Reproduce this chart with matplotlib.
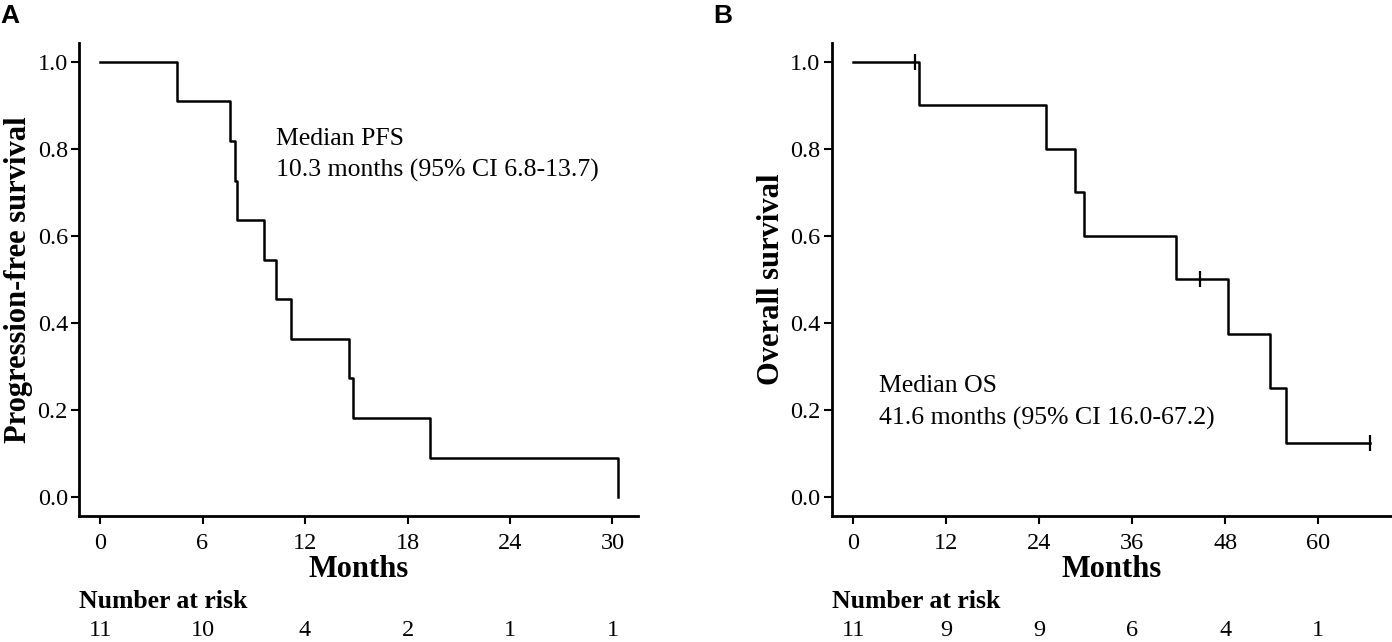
import matplotlib
matplotlib.use("Agg")
import matplotlib.pyplot as plt
from matplotlib.transforms import blended_transform_factory

plt.rcParams['font.family'] = ['Liberation Serif', 'DejaVu Serif']

# Panel A: progression-free survival (Kaplan-Meier steps)
pfs_time = [0, 4.5, 7.6, 7.9, 8.0, 9.6, 10.3, 11.2, 14.6, 14.8, 19.3, 30.3]
pfs_surv = [1.0, 0.909, 0.818, 0.727, 0.636, 0.545, 0.455, 0.364, 0.273, 0.182, 0.091, 0.0]
pfs_ticks = [0, 6, 12, 18, 24, 30]
pfs_risk = [11, 10, 4, 2, 1, 1]

# Panel B: overall survival
os_time = [0, 8.5, 24.9, 28.6, 29.8, 41.6, 48.4, 53.7, 55.8, 66.7]
os_surv = [1.0, 0.9, 0.8, 0.7, 0.6, 0.5, 0.375, 0.25, 0.125, 0.125]
os_cens_time = [7.9, 44.7, 66.7]
os_cens_surv = [1.0, 0.5, 0.125]
os_ticks = [0, 12, 24, 36, 48, 60]
os_risk = [11, 9, 9, 6, 4, 1]

y_ticks = [0.0, 0.2, 0.4, 0.6, 0.8, 1.0]

fig = plt.figure(figsize=(13.92, 6.42), dpi=100)
axA = fig.add_axes([0.0568, 0.1963, 0.4016, 0.7368])
axB = fig.add_axes([0.5975, 0.1963, 0.4025, 0.7368])


def style_axis(ax, xticks, xlim, ylabel):
    for side in ['top', 'right']:
        ax.spines[side].set_visible(False)
    for side in ['left', 'bottom']:
        ax.spines[side].set_linewidth(2.0)
    ax.set_xlim(*xlim)
    ax.set_ylim(-0.043, 1.043)
    ax.set_xticks(xticks)
    ax.set_yticks(y_ticks)
    ax.set_yticklabels(['%.1f' % v for v in y_ticks])
    ax.tick_params(direction='out', length=6, width=1.5, labelsize=17.5)
    ax.tick_params(axis='x', pad=6)
    ax.tick_params(axis='y', pad=2)
    ax.set_xlabel('Months', fontsize=22, fontweight='bold', labelpad=1)
    ax.set_ylabel(ylabel, fontsize=22, fontweight='bold', labelpad=3)


# A
axA.plot(pfs_time, pfs_surv, drawstyle='steps-post', color='black', lw=1.8)
style_axis(axA, pfs_ticks, (-1.23, 31.5), 'Progression-free survival')
axA.text(10.3, 0.822, 'Median PFS', fontsize=18.5, va='center')
axA.text(10.3, 0.75, '10.3 months (95% CI 6.8-13.7)', fontsize=18.5, va='center')

# B
axB.plot(os_time, os_surv, drawstyle='steps-post', color='black', lw=1.8)
axB.plot(os_cens_time, os_cens_surv, ls='none', marker='|', ms=11, mew=1.6, color='black')
style_axis(axB, os_ticks, (-2.8, 69.5), 'Overall survival')
axB.text(3.3, 0.256, 'Median OS', fontsize=18.5, va='center')
axB.text(3.3, 0.182, '41.6 months (95% CI 16.0-67.2)', fontsize=18.5, va='center')

# number at risk rows
for ax, ticks, risk in [(axA, pfs_ticks, pfs_risk), (axB, os_ticks, os_risk)]:
    tr = blended_transform_factory(ax.transData, fig.transFigure)
    x0 = ax.get_xlim()[0]
    ax.text(x0, 1 - 602 / 642, 'Number at risk', transform=tr, fontsize=18.5,
            fontweight='bold', ha='left', va='center')
    for t, n in zip(ticks, risk):
        ax.text(t, 1 - 630 / 642, str(n), transform=tr, fontsize=17.5,
                ha='center', va='center')

fig.text(0.0, 1 - 16 / 642, 'A', fontsize=19, fontweight='bold',
         family='Liberation Sans', va='center', ha='left')
fig.text(713 / 1392, 1 - 16 / 642, 'B', fontsize=19, fontweight='bold',
         family='Liberation Sans', va='center', ha='left')

fig.savefig('out.png', dpi=100)
